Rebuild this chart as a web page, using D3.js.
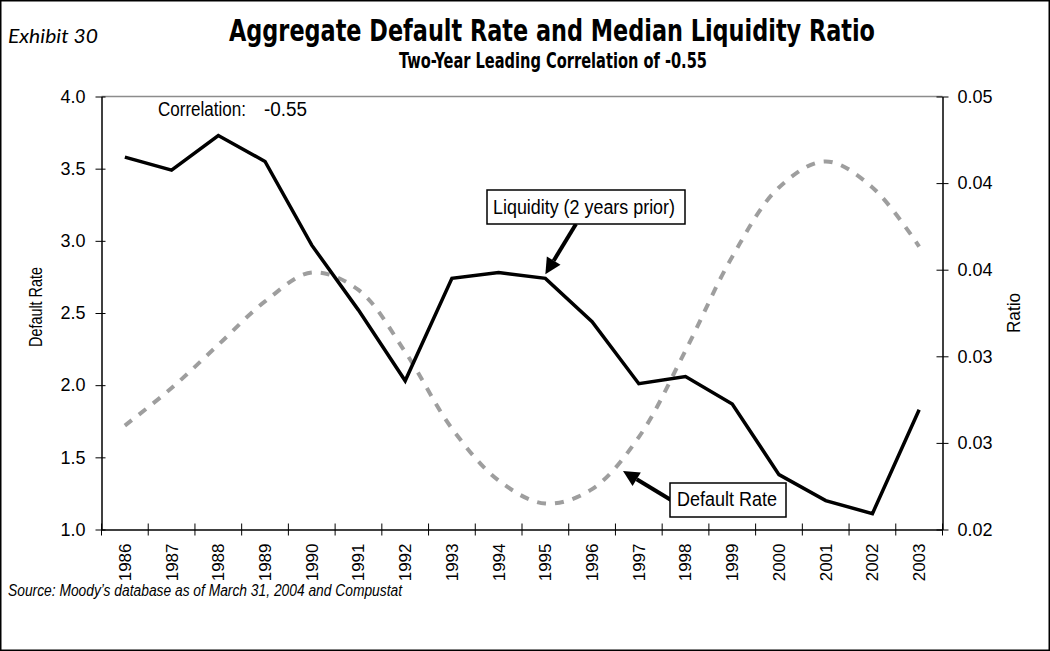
<!DOCTYPE html>
<html><head><meta charset="utf-8">
<script src="https://cdn.jsdelivr.net/npm/d3@7"></script>
<style>body{margin:0;background:#fff} svg{display:block}</style>
</head><body><svg id="c" width="1050" height="651"></svg>
<script>
const years = ["1986","1987","1988","1989","1990","1991","1992","1993","1994","1995","1996","1997","1998","1999","2000","2001","2002","2003"];
const defaultRate = [3.58,3.49,3.73,3.55,2.97,2.52,2.03,2.74,2.78,2.74,2.44,2.01,2.06,1.87,1.38,1.20,1.11,1.83];
const liquidity = [0.0272,0.0298,0.0328,0.0358,0.0378,0.0366,0.0323,0.0270,0.0234,0.0218,0.0228,0.0264,0.0324,0.0389,0.0437,0.0455,0.0437,0.0396];
const leftTicks = [1.0,1.5,2.0,2.5,3.0,3.5,4.0];
const rightTicks = [0.02,0.026,0.032,0.038,0.044,0.05];

const COND = "'Liberation Sans Narrow','Arial Narrow','DejaVu Sans Condensed',sans-serif";
const SANS = "'Liberation Sans',Arial,Helvetica,sans-serif";
const svg = d3.select("#c");
const m = {l:101.5, r:942.5, t:96.5, b:529.5};
const x = d3.scaleBand().domain(years).range([m.l, m.r]);
const bw = x.bandwidth();
const cx = d => x(d) + bw/2;
const yL = d3.scaleLinear().domain([1,4]).range([m.b, m.t]);
const yR = d3.scaleLinear().domain([0.02,0.05]).range([m.b, m.t]);

function fit(sel, w){
  const L = sel.node().getComputedTextLength();
  if (Math.abs(L - w) > 1) sel.attr("textLength", w).attr("lengthAdjust","spacingAndGlyphs");
  return sel;
}

// outer frame
svg.append("rect").attr("x",0.75).attr("y",0.75).attr("width",1048.5).attr("height",649.5)
  .attr("fill","none").attr("stroke","#000").attr("stroke-width",1.5);

// plot area top border
svg.append("line").attr("x1",m.l).attr("x2",m.r).attr("y1",m.t).attr("y2",m.t)
  .attr("stroke","#8c8c8c").attr("stroke-width",1.5);

// titles
fit(svg.append("text").attr("x",552).attr("y",41).attr("text-anchor","middle")
  .attr("font-family",COND).attr("font-weight","bold").attr("font-size",30)
  .text("Aggregate Default Rate and Median Liquidity Ratio"), 646);
fit(svg.append("text").attr("x",553).attr("y",68).attr("text-anchor","middle")
  .attr("font-family",COND).attr("font-weight","bold").attr("font-size",21)
  .text("Two-Year Leading Correlation of -0.55"), 308);
fit(svg.append("text").attr("x",8).attr("y",43)
  .attr("font-family","Lato, 'Open Sans', sans-serif").attr("font-style","italic").attr("font-size",19)
  .text("Exhibit 30"), 90);
fit(svg.append("text").attr("x",8).attr("y",596)
  .attr("font-family",SANS).attr("font-style","italic").attr("font-size",16)
  .text("Source: Moody\u2019s database as of March 31, 2004 and Compustat"), 394);

// left axis
const gL = svg.append("g").attr("transform",`translate(${m.l},0)`)
  .call(d3.axisLeft(yL).tickValues(leftTicks).tickFormat(d3.format(".1f"))
    .tickSizeInner(6).tickSizeOuter(0).tickPadding(10));
gL.selectAll(".tick line").attr("x1",4).attr("x2",-6);
// right axis
const gR = svg.append("g").attr("transform",`translate(${m.r},0)`)
  .call(d3.axisRight(yR).tickValues(rightTicks).tickFormat(d3.format(".2f"))
    .tickSizeInner(6).tickSizeOuter(0).tickPadding(9));
gR.selectAll(".tick line").attr("x1",-6).attr("x2",6);
// bottom axis
const gB = svg.append("g").attr("transform",`translate(0,${m.b})`)
  .call(d3.axisBottom(x).tickSize(0).tickSizeOuter(0));
gB.selectAll(".tick text").attr("transform","rotate(-90)").attr("x",-14).attr("y",0)
  .attr("dy","0.35em").attr("text-anchor","end");
gB.selectAll(".bound").data(years.concat(["end"])).enter().append("line")
  .attr("x1",(d,i)=> m.l + i*bw).attr("x2",(d,i)=> m.l + i*bw)
  .attr("y1",-6).attr("y2",6).attr("stroke","#000").attr("stroke-width",1);

[gL,gR,gB].forEach(g=>{
  g.selectAll("text").attr("font-family",SANS).attr("font-size",18).attr("fill","#000");
  g.select(".domain").attr("stroke","#000").attr("stroke-width",1.5);
  g.selectAll(".tick line").attr("stroke","#000");
});
gB.selectAll(".tick text").attr("font-size",17);

// axis titles
fit(svg.append("text").attr("transform","translate(42,307) rotate(-90)").attr("text-anchor","middle")
  .attr("font-family",SANS).attr("font-size",18).text("Default Rate"), 80);
fit(svg.append("text").attr("transform","translate(1020,313) rotate(-90)").attr("text-anchor","middle")
  .attr("font-family",SANS).attr("font-size",18).text("Ratio"), 40);

// dashed series (right axis)
const dashLine = d3.line().x((d,i)=>cx(years[i])).y(d=>yR(d)).curve(d3.curveCatmullRom.alpha(0.5));
svg.append("path").attr("d",dashLine(liquidity)).attr("fill","none")
  .attr("stroke","#9e9e9e").attr("stroke-width",4).attr("stroke-dasharray","9,9");

// solid series (left axis)
const solidLine = d3.line().x((d,i)=>cx(years[i])).y(d=>yL(d));
svg.append("path").attr("d",solidLine(defaultRate)).attr("fill","none")
  .attr("stroke","#000").attr("stroke-width",3.5).attr("stroke-linejoin","miter");

// correlation text
fit(svg.append("text").attr("x",158).attr("y",116).attr("font-family",SANS).attr("font-size",20)
  .text("Correlation:"), 88);
fit(svg.append("text").attr("x",264).attr("y",116).attr("font-family",SANS).attr("font-size",20)
  .text("-0.55"), 43);

// arrows
function arrow(x0,y0,x1,y1){
  const ang = Math.atan2(y1-y0, x1-x0);
  const hl = 16, hw = 8;
  const bx = x1 - hl*Math.cos(ang), by = y1 - hl*Math.sin(ang);
  svg.append("line").attr("x1",x0).attr("y1",y0).attr("x2",bx).attr("y2",by)
    .attr("stroke","#000").attr("stroke-width",4);
  const px = -Math.sin(ang)*hw, py = Math.cos(ang)*hw;
  svg.append("path").attr("d",`M${x1},${y1}L${bx+px},${by+py}L${bx-px},${by-py}Z`).attr("fill","#000");
}
function box(x0,y0,w,h,txt,tx,ty,tw){
  svg.append("rect").attr("x",x0).attr("y",y0).attr("width",w).attr("height",h)
    .attr("fill","#fff").attr("stroke","#000").attr("stroke-width",1.5);
  fit(svg.append("text").attr("x",tx).attr("y",ty).attr("font-family",SANS).attr("font-size",20).text(txt), tw);
}
const tip1x = cx("1995"), tip1y = yL(defaultRate[9]) - 4;
arrow(576, 224, tip1x, tip1y);
box(487,190,198,34,"Liquidity (2 years prior)",493,214,182);
arrow(671, 500, 623, 471);
box(670,483,116,34,"Default Rate",677,506,100);
</script></body></html>
